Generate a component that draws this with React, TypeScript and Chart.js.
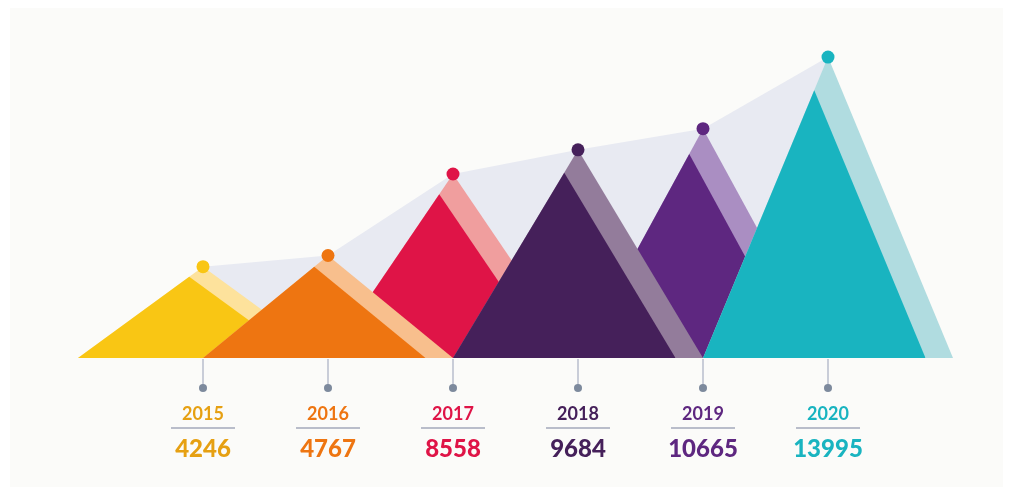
import React, { useEffect, useRef } from 'react';
import { Chart, registerables } from 'chart.js';

Chart.register(...registerables);

const years = ['2015', '2016', '2017', '2018', '2019', '2020'];
const values = [4246, 4767, 8558, 9684, 10665, 13995];
const valueLabels = ['4246', '4767', '8558', '9684', '10665', '13995'];
const mainColors = ['#f9c614', '#ee7511', '#df1447', '#45205a', '#5e2780', '#19b4c0'];
const lightColors = ['#fde29c', '#f8bf8d', '#f09e9e', '#937c9b', '#aa8ec2', '#b0dce0'];
const textColors = ['#e6a012', '#ee7511', '#df1447', '#45205a', '#5e2780', '#19b4c0'];
const areaColor = '#e8eaf2';
const INNER = 0.89; // front triangle scale relative to back triangle

export default function App() {
  const ref = useRef<HTMLCanvasElement | null>(null);

  useEffect(() => {
    document.body.style.margin = '0';
    const canvas = ref.current;
    if (!canvas) return;

    const datasets: any[] = [];
    datasets.push({
      label: 'area',
      data: values.map((v, i) => ({ x: i, y: v })),
      fill: 'origin',
      backgroundColor: areaColor,
      borderColor: 'rgba(0,0,0,0)',
      borderWidth: 0,
      pointRadius: 0,
      tension: 0,
      order: 10,
    });
    values.forEach((v, i) => {
      const front = i % 2 === 1;
      datasets.push({
        label: 'back' + years[i],
        data: [
          { x: i - 1, y: 0 },
          { x: i, y: v },
          { x: i + 1, y: 0 },
        ],
        fill: 'origin',
        backgroundColor: lightColors[i],
        borderColor: 'rgba(0,0,0,0)',
        borderWidth: 0,
        pointRadius: 0,
        tension: 0,
        order: front ? 2 : 4,
      });
      datasets.push({
        label: 'front' + years[i],
        data: [
          { x: i - 1, y: 0 },
          { x: i - 1 + INNER, y: v * INNER },
          { x: i - 1 + 2 * INNER, y: 0 },
        ],
        fill: 'origin',
        backgroundColor: mainColors[i],
        borderColor: 'rgba(0,0,0,0)',
        borderWidth: 0,
        pointRadius: 0,
        tension: 0,
        order: front ? 1 : 3,
      });
    });
    datasets.push({
      label: 'peaks',
      data: values.map((v, i) => ({ x: i, y: v })),
      showLine: false,
      fill: false,
      pointRadius: 6.5,
      pointBackgroundColor: mainColors,
      pointBorderWidth: 0,
      pointBorderColor: 'rgba(0,0,0,0)',
      order: 0,
    });

    const bgPlugin = {
      id: 'bg',
      beforeDraw(chart: any) {
        const { ctx, width, height } = chart;
        ctx.save();
        ctx.fillStyle = '#ffffff';
        ctx.fillRect(0, 0, width, height);
        ctx.fillStyle = '#fbfbf9';
        ctx.fillRect(10, 8, width - 16, height - 12);
        ctx.restore();
      },
    };

    const labelPlugin = {
      id: 'labels',
      afterDraw(chart: any) {
        const { ctx } = chart;
        const xs = chart.scales.x;
        const ys = chart.scales.y;
        const base = ys.getPixelForValue(0);
        ctx.save();
        years.forEach((yr, i) => {
          const x = Math.round(xs.getPixelForValue(i));
          // stem
          ctx.strokeStyle = '#c9cdd8';
          ctx.lineWidth = 2;
          ctx.beginPath();
          ctx.moveTo(x, base + 1);
          ctx.lineTo(x, base + 28);
          ctx.stroke();
          ctx.fillStyle = '#7d8a9d';
          ctx.beginPath();
          ctx.arc(x, base + 30, 4, 0, Math.PI * 2);
          ctx.fill();
          // year
          ctx.textAlign = 'center';
          ctx.textBaseline = 'middle';
          ctx.fillStyle = textColors[i];
          ctx.font = 'bold 18px Lato, "Open Sans", sans-serif';
          ctx.fillText(yr, x, base + 56);
          // underline
          ctx.strokeStyle = '#b9bdca';
          ctx.lineWidth = 2;
          ctx.beginPath();
          ctx.moveTo(x - 32, base + 70);
          ctx.lineTo(x + 32, base + 70);
          ctx.stroke();
          // value
          ctx.font = '900 24px Lato, "Open Sans", sans-serif';
          ctx.fillText(valueLabels[i], x, base + 91);
        });
        ctx.restore();
      },
    };

    const chart = new Chart(canvas, {
      type: 'line',
      data: { datasets },
      options: {
        responsive: false,
        animation: false,
        events: [],
        layout: { padding: { left: 78, right: 56, top: 14, bottom: 133 } },
        scales: {
          x: { type: 'linear', min: -1, max: 6, display: false },
          y: { type: 'linear', min: 0, max: 16000, display: false },
        },
        plugins: {
          legend: { display: false },
          tooltip: { enabled: false },
          filler: { drawTime: 'beforeDatasetDraw' } as any,
        },
        elements: { line: { tension: 0 } },
      },
      plugins: [bgPlugin, labelPlugin],
    });
    return () => chart.destroy();
  }, []);

  return (
    <div style={{ width: 1009, height: 491 }}>
      <canvas ref={ref} width={1009} height={491} style={{ display: 'block' }} />
    </div>
  );
}
